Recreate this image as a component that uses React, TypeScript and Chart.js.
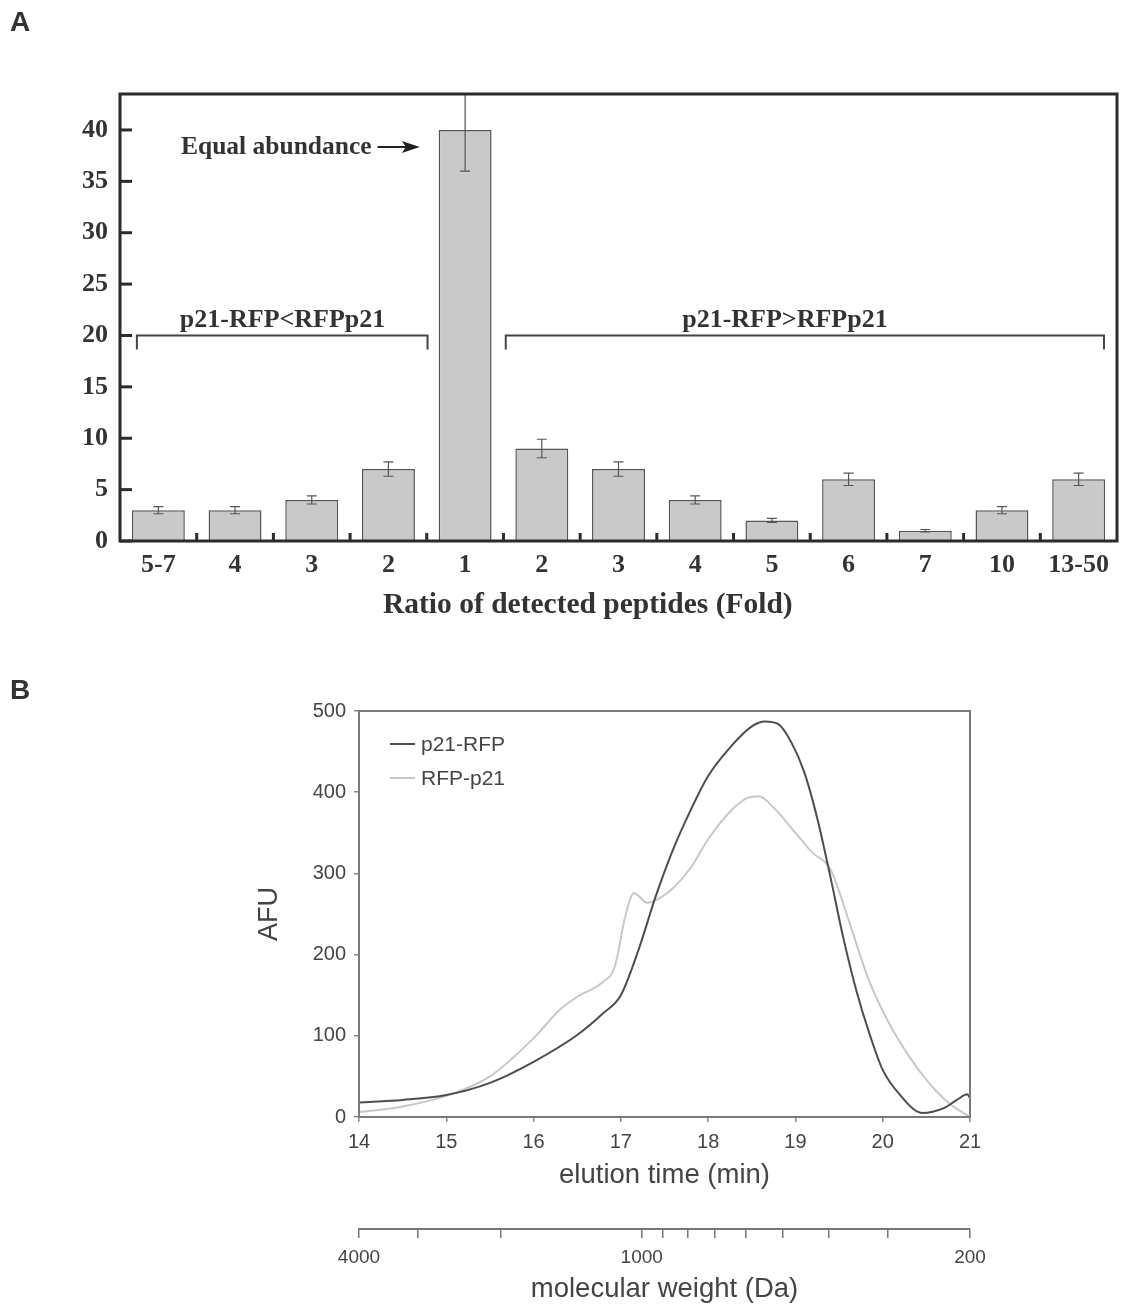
import React, { useEffect, useRef } from 'react';
import { Chart, registerables } from 'chart.js';

Chart.register(...registerables);

// ---------- Panel A data ----------
const foldLabels = ['5-7', '4', '3', '2', '1', '2', '3', '4', '5', '6', '7', '10', '13-50'];
const peptideCounts = [3, 3, 4, 7, 40, 9, 7, 4, 2, 6, 1, 3, 6];
const peptideErrors = [0.35, 0.35, 0.4, 0.7, 4, 0.9, 0.7, 0.4, 0.2, 0.6, 0.12, 0.35, 0.6];
const countTicks = [0, 5, 10, 15, 20, 25, 30, 35, 40];

// ---------- Panel B data ----------
const p21RfpTime = [14, 14.5, 15, 15.5, 16, 16.5, 16.8, 17.0, 17.2, 17.4, 17.6, 17.8, 18.0, 18.25, 18.5, 18.65, 18.8, 18.95, 19.1, 19.25, 19.4, 19.55, 19.7, 19.85, 20.0, 20.2, 20.45, 20.7, 20.85, 20.97, 21.0];
const p21RfpAfu = [18, 21, 27, 42, 68, 101, 128, 150, 205, 272, 330, 378, 420, 455, 481, 487, 484, 462, 425, 368, 296, 220, 155, 102, 58, 27, 5, 11, 21, 28, 23];
const rfpP21Time = [14, 14.5, 15, 15.5, 16, 16.3, 16.5, 16.8, 16.93, 17.05, 17.15, 17.3, 17.45, 17.6, 17.8, 18.0, 18.25, 18.45, 18.58, 18.75, 19.0, 19.2, 19.38, 19.45, 19.62, 19.84, 20.07, 20.3, 20.53, 20.76, 21.0];
const rfpP21Afu = [6, 13, 26, 50, 97, 132, 148, 167, 185, 247, 276, 264, 270, 282, 307, 342, 376, 393, 395, 381, 350, 325, 309, 293, 239, 169, 116, 75, 42, 17, 0];
const afuTicks = [0, 100, 200, 300, 400, 500];
const elutionTicks = [14, 15, 16, 17, 18, 19, 20, 21];
const mwTicks = [4000, 3000, 2000, 1000, 900, 800, 700, 600, 500, 400, 300, 200];
const mwLabelled = [4000, 1000, 200];

const SERIF = "'Liberation Serif', 'Times New Roman', serif";
const SANS = "'Liberation Sans', Arial, sans-serif";

function PanelA() {
  const ref = useRef<HTMLCanvasElement | null>(null);
  useEffect(() => {
    if (!ref.current) return;
    const decor = {
      id: 'panelADecor',
      afterDatasetsDraw(chart: any) {
        const { ctx, chartArea: a } = chart;
        const xs = chart.scales.x;
        const ys = chart.scales.y;
        ctx.save();
        // error bars
        ctx.save();
        ctx.beginPath();
        ctx.rect(a.left, a.top, a.right - a.left, a.bottom - a.top);
        ctx.clip();
        ctx.strokeStyle = '#555';
        ctx.lineWidth = 1.2;
        peptideCounts.forEach((v, i) => {
          const x = xs.getPixelForValue(i);
          const yt = ys.getPixelForValue(v + peptideErrors[i]);
          const yb = ys.getPixelForValue(v - peptideErrors[i]);
          ctx.beginPath();
          ctx.moveTo(x, yt);
          ctx.lineTo(x, yb);
          ctx.moveTo(x - 5, yt);
          ctx.lineTo(x + 5, yt);
          ctx.moveTo(x - 5, yb);
          ctx.lineTo(x + 5, yb);
          ctx.stroke();
        });
        ctx.restore();
        // frame
        ctx.strokeStyle = '#2b2b2b';
        ctx.lineWidth = 3;
        ctx.strokeRect(a.left, a.top, a.right - a.left, a.bottom - a.top);
        // y inward ticks
        countTicks.forEach((v) => {
          const y = ys.getPixelForValue(v);
          ctx.beginPath();
          ctx.moveTo(a.left, y);
          ctx.lineTo(a.left + 12, y);
          ctx.stroke();
        });
        // x inward ticks between categories
        for (let i = 0; i < foldLabels.length - 1; i++) {
          const x = xs.getPixelForValue(i + 0.5);
          ctx.beginPath();
          ctx.moveTo(x, a.bottom);
          ctx.lineTo(x, a.bottom - 8);
          ctx.stroke();
        }
        // brackets
        ctx.strokeStyle = '#444';
        ctx.lineWidth = 2;
        const by = ys.getPixelForValue(20);
        const brackets = [
          [-0.28, 3.51, 'p21-RFP<RFPp21', 1.62],
          [4.53, 12.33, 'p21-RFP>RFPp21', 8.17],
        ] as const;
        ctx.fillStyle = '#333';
        ctx.font = `bold 26px ${SERIF}`;
        ctx.textAlign = 'center';
        ctx.textBaseline = 'middle';
        brackets.forEach(([s, e, label, c]) => {
          const x1 = xs.getPixelForValue(s);
          const x2 = xs.getPixelForValue(e);
          ctx.beginPath();
          ctx.moveTo(x1, by + 14);
          ctx.lineTo(x1, by);
          ctx.lineTo(x2, by);
          ctx.lineTo(x2, by + 14);
          ctx.stroke();
          ctx.fillText(label, xs.getPixelForValue(c), ys.getPixelForValue(21.5));
        });
        // Equal abundance
        ctx.font = `bold 25.5px ${SERIF}`;
        const ey = ys.getPixelForValue(38.35);
        const tx = xs.getPixelForValue(0.295);
        ctx.textAlign = 'left';
        ctx.fillText('Equal abundance', tx, ey);
        const tw = ctx.measureText('Equal abundance').width;
        const ax1 = tx + tw + 6;
        const ax2 = xs.getPixelForValue(3.41);
        ctx.strokeStyle = '#222';
        ctx.lineWidth = 2;
        ctx.beginPath();
        ctx.moveTo(ax1, ey);
        ctx.lineTo(ax2 - 10, ey);
        ctx.stroke();
        ctx.fillStyle = '#222';
        ctx.beginPath();
        ctx.moveTo(ax2, ey);
        ctx.lineTo(ax2 - 18, ey - 6);
        ctx.lineTo(ax2 - 14, ey);
        ctx.lineTo(ax2 - 18, ey + 6);
        ctx.closePath();
        ctx.fill();
        // x-axis title
        ctx.fillStyle = '#333';
        ctx.font = `bold 29.5px ${SERIF}`;
        ctx.textAlign = 'center';
        ctx.fillText('Ratio of detected peptides (Fold)', xs.getPixelForValue(5.6), a.bottom + 64);
        ctx.restore();
      },
    };
    const chart = new Chart(ref.current, {
      type: 'bar',
      data: {
        labels: foldLabels,
        datasets: [
          {
            data: peptideCounts,
            backgroundColor: '#c9c9c9',
            borderColor: '#555',
            borderWidth: 1.5,
            barPercentage: 0.69,
            categoryPercentage: 1,
          },
        ],
      },
      options: {
        responsive: false,
        animation: false,
        devicePixelRatio: 1,
        layout: { padding: { top: 94, right: 9, bottom: 0, left: 0 } },
        plugins: { legend: { display: false }, tooltip: { enabled: false } },
        scales: {
          x: {
            offset: true,
            grid: { display: false, drawTicks: false },
            border: { display: false },
            ticks: {
              padding: 9,
              color: '#333',
              autoSkip: false,
              maxRotation: 0,
              font: { family: SERIF, size: 26, weight: 'bold' },
            },
            afterFit: (s: any) => {
              s.height = 109;
            },
          },
          y: {
            min: 0,
            max: 43.5,
            afterBuildTicks: (s: any) => {
              s.ticks = countTicks.map((v) => ({ value: v }));
            },
            grid: { display: false, drawTicks: false },
            border: { display: false },
            ticks: {
              padding: 12,
              color: '#333',
              font: { family: SERIF, size: 26, weight: 'bold' },
            },
            afterFit: (s: any) => {
              s.width = 120;
            },
          },
        },
      } as any,
      plugins: [decor],
    });
    return () => chart.destroy();
  }, []);
  return <canvas ref={ref} width={1126} height={650} style={{ position: 'absolute', left: 0, top: 0 }} />;
}

function PanelB() {
  const ref = useRef<HTMLCanvasElement | null>(null);
  useEffect(() => {
    if (!ref.current) return;
    const decor = {
      id: 'panelBDecor',
      afterDatasetsDraw(chart: any) {
        const { ctx, chartArea: a } = chart;
        ctx.save();
        ctx.strokeStyle = '#7a7a7a';
        ctx.lineWidth = 2;
        ctx.strokeRect(a.left, a.top, a.right - a.left, a.bottom - a.top);
        // legend
        const items = [
          ['p21-RFP', '#4d4d4d', 33],
          ['RFP-p21', '#c8c8c8', 67],
        ] as const;
        ctx.font = `21px ${SANS}`;
        ctx.textAlign = 'left';
        ctx.textBaseline = 'middle';
        items.forEach(([label, color, dy]) => {
          const y = a.top + dy;
          ctx.strokeStyle = color;
          ctx.lineWidth = 2;
          ctx.beginPath();
          ctx.moveTo(a.left + 31, y);
          ctx.lineTo(a.left + 56, y);
          ctx.stroke();
          ctx.fillStyle = '#444';
          ctx.fillText(label, a.left + 62, y + 1);
        });
        ctx.restore();
      },
    };
    const chart = new Chart(ref.current, {
      type: 'line',
      data: {
        datasets: [
          {
            label: 'p21-RFP',
            data: p21RfpTime.map((t, i) => ({ x: t, y: p21RfpAfu[i] })),
            borderColor: '#4d4d4d',
            borderWidth: 2,
            pointRadius: 0,
            cubicInterpolationMode: 'monotone',
            xAxisID: 'x',
            yAxisID: 'y',
          },
          {
            label: 'RFP-p21',
            data: rfpP21Time.map((t, i) => ({ x: t, y: rfpP21Afu[i] })),
            borderColor: '#c8c8c8',
            borderWidth: 2,
            pointRadius: 0,
            cubicInterpolationMode: 'monotone',
            xAxisID: 'x',
            yAxisID: 'y',
          },
        ],
      },
      options: {
        responsive: false,
        animation: false,
        devicePixelRatio: 1,
        layout: { padding: { top: 61, right: 156, bottom: 0, left: 250 } },
        plugins: { legend: { display: false }, tooltip: { enabled: false } },
        scales: {
          x: {
            type: 'linear',
            position: 'bottom',
            weight: 0,
            min: 14,
            max: 21,
            afterBuildTicks: (s: any) => {
              s.ticks = elutionTicks.map((v) => ({ value: v }));
            },
            grid: { display: true, drawOnChartArea: false, drawTicks: true, tickLength: 5, color: '#888', lineWidth: 1.5 },
            border: { display: false },
            ticks: { padding: 8, color: '#444', font: { family: SANS, size: 20 } },
            title: {
              display: true,
              text: 'elution time (min)',
              color: '#444',
              font: { family: SANS, size: 27.5 },
              padding: { top: 0, bottom: 37 },
            },
            afterFit: (s: any) => {
              s.height = 112;
            },
          },
          x2: {
            type: 'logarithmic',
            position: 'bottom',
            weight: 1,
            reverse: true,
            min: 200,
            max: 4000,
            afterBuildTicks: (s: any) => {
              s.ticks = mwTicks.map((v) => ({ value: v }));
            },
            grid: { display: true, drawOnChartArea: false, drawTicks: true, tickLength: 9, color: '#777', lineWidth: 1.5 },
            border: { display: true, color: '#777', width: 2 },
            ticks: {
              padding: 8,
              color: '#444',
              autoSkip: false,
              maxRotation: 0,
              font: { family: SANS, size: 19 },
              callback: (v: any) => (mwLabelled.includes(Number(v)) ? String(v) : ''),
            },
            title: {
              display: true,
              text: 'molecular weight (Da)',
              color: '#444',
              font: { family: SANS, size: 27.5 },
              padding: { top: 0, bottom: 1 },
            },
            afterFit: (s: any) => {
              s.height = 78;
            },
          },
          y: {
            min: 0,
            max: 500,
            afterBuildTicks: (s: any) => {
              s.ticks = afuTicks.map((v) => ({ value: v }));
            },
            grid: { display: true, drawOnChartArea: false, drawTicks: true, tickLength: 5, color: '#888', lineWidth: 1.5 },
            border: { display: false },
            ticks: { padding: 8, color: '#444', font: { family: SANS, size: 20 } },
            title: {
              display: true,
              text: 'AFU',
              color: '#444',
              font: { family: SANS, size: 27 },
              padding: { top: 3, bottom: 0 },
            },
            afterFit: (s: any) => {
              s.width = 109;
            },
          },
        },
      } as any,
      plugins: [decor],
    });
    return () => chart.destroy();
  }, []);
  return <canvas ref={ref} width={1126} height={657} style={{ position: 'absolute', left: 0, top: 650 }} />;
}

const letterStyle: React.CSSProperties = {
  position: 'absolute',
  left: 10,
  font: `bold 28px ${SANS}`,
  lineHeight: '28px',
  color: '#333',
};

export default function App() {
  return (
    <div style={{ position: 'absolute', left: 0, top: 0, width: 1126, height: 1307, background: '#fff', overflow: 'hidden' }}>
      <PanelA />
      <PanelB />
      <div style={{ ...letterStyle, top: 8 }}>A</div>
      <div style={{ ...letterStyle, top: 676 }}>B</div>
    </div>
  );
}
